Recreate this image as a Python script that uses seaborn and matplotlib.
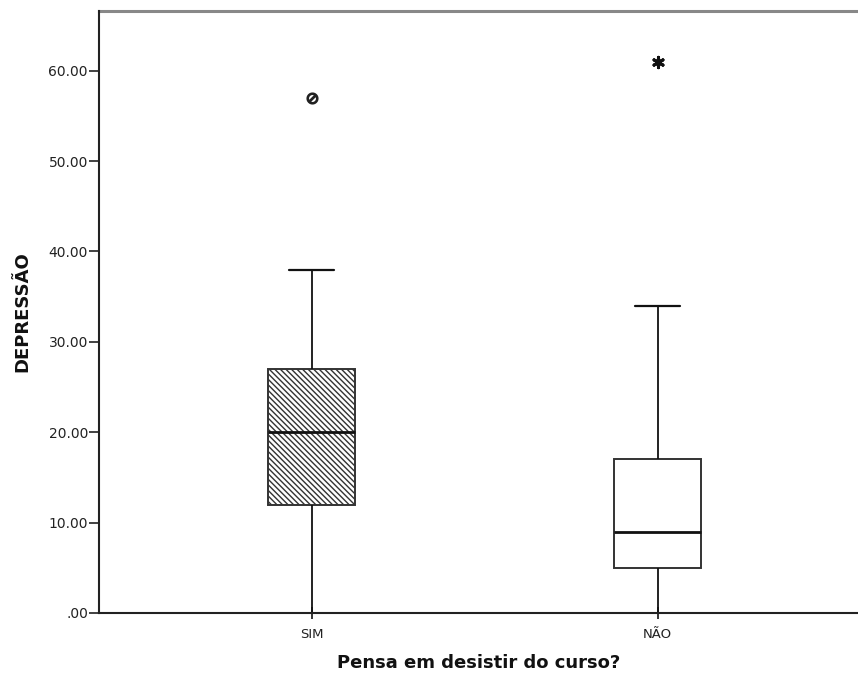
import matplotlib
matplotlib.use("Agg")
import matplotlib.pyplot as plt
import seaborn as sns
import pandas as pd
from matplotlib.ticker import FuncFormatter

# groups on the x axis
groups = ["SIM", "NÃO"]

# values: min, Q1, median, Q3, max (inside the whiskers)
sim_values = [0, 12, 12, 20, 20, 27, 27, 38]
nao_values = [0, 5, 5, 9, 9, 17, 17, 34]

# points beyond the whiskers
sim_outlier = [57]     # circle (outlier)
nao_extreme = [61]     # asterisk (extreme)

y_ticks = [0, 10, 20, 30, 40, 50, 60]

df = pd.DataFrame({
    "grupo": ["SIM"] * len(sim_values) + ["NÃO"] * len(nao_values),
    "depressao": sim_values + nao_values,
})

sns.set_theme(style="white")
plt.rcParams["font.family"] = ["DejaVu Sans"]
plt.rcParams["hatch.linewidth"] = 1.0
plt.rcParams["hatch.color"] = "#3a3a3a"

fig = plt.figure(figsize=(8.58, 6.75), dpi=100)
ax = fig.add_axes([0.1154, 0.0919, 0.8846, 0.8918])

sns.boxplot(
    data=df, x="grupo", y="depressao", order=groups, ax=ax,
    width=0.25, whis=1.5, showfliers=False, color="white",
    linecolor="#333333", linewidth=1.4,
    medianprops={"color": "#111111", "linewidth": 2.0},
    whiskerprops={"color": "#111111", "linewidth": 1.3},
    capprops={"color": "#111111", "linewidth": 1.6},
    capwidths=0.13,
)

# caps that sit on the zero line are hidden by the axis in the original
for line in ax.lines:
    ys = line.get_ydata()
    if len(ys) == 2 and ys[0] == 0 and ys[1] == 0:
        line.set_visible(False)

# hatch the first box like the SPSS pattern
box = ax.patches[0]
box.set_hatch("\\" * 6)
box.set_edgecolor("#333333")

# outliers with their own markers
ax.scatter([0] * len(sim_outlier), sim_outlier, marker="$\\oslash$", s=60,
           color="#222222", zorder=5)
ax.scatter([1] * len(nao_extreme), nao_extreme, marker=(6, 2, 0), s=55,
           color="#111111", linewidths=2.2, zorder=5)

ax.set_xlim(-0.614, 1.579)
ax.set_ylim(0, 66.6)
ax.set_yticks(y_ticks)
ax.yaxis.set_major_formatter(
    FuncFormatter(lambda v, p: ".00" if v == 0 else f"{v:.2f}"))

ax.tick_params(axis="y", left=True, direction="out", length=7, width=1.3,
               color="#333333", labelsize=10, pad=1, labelcolor="#222222")
ax.tick_params(axis="x", bottom=True, direction="inout", length=9, width=1.2,
               color="#111111", labelsize=9.5, pad=6, labelcolor="#222222")

ax.set_xlabel("Pensa em desistir do curso?", fontsize=13, fontweight="bold",
              color="#111111", labelpad=10)
ax.set_ylabel("DEPRESSÃO", fontsize=13, fontweight="bold", color="#111111",
              labelpad=12)

for side in ["left", "bottom"]:
    ax.spines[side].set_color("#222222")
    ax.spines[side].set_linewidth(1.5)
    ax.spines[side].set_zorder(6)
ax.spines["top"].set_color("#888888")
ax.spines["top"].set_linewidth(2.2)
ax.spines["right"].set_visible(False)

fig.savefig("out.png", dpi=100, facecolor="white")
